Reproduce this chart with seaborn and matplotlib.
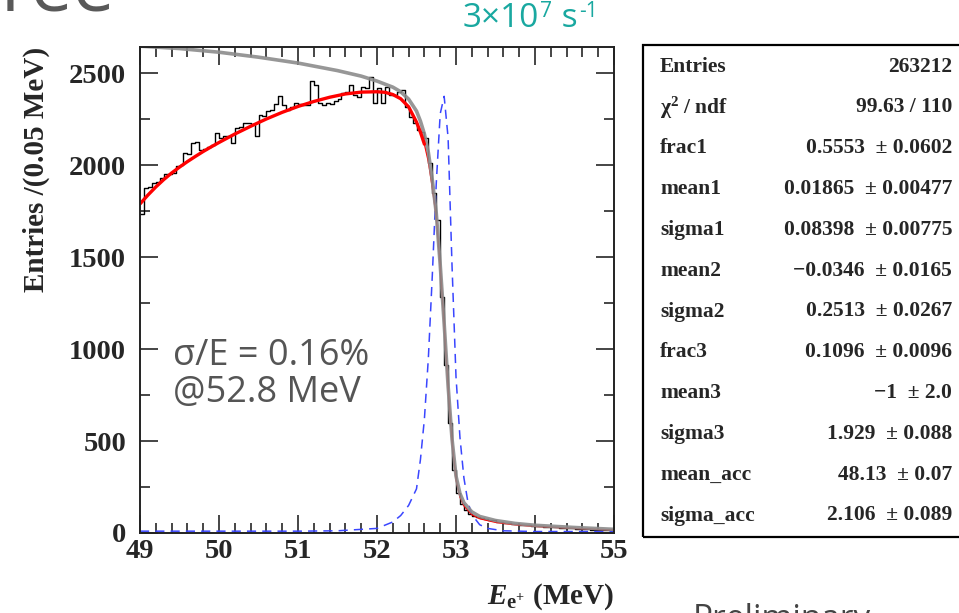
import matplotlib
matplotlib.use("Agg")
import matplotlib.pyplot as plt
import numpy as np
import pandas as pd
import seaborn as sns
from matplotlib.patches import Rectangle
from matplotlib.ticker import MultipleLocator

# histogram: 120 bins of 0.05 MeV between 49 and 55 (counts)
bin_lo = 49.0
bin_w = 0.05
counts = [
    1735, 1874, 1880, 1905, 1910, 1929, 1955, 1950, 1958, 1997,
    2000, 2065, 2060, 2120, 2125, 2083, 2090, 2100, 2110, 2175,
    2150, 2160, 2158, 2119, 2205, 2210, 2228, 2230, 2225, 2158,
    2273, 2270, 2295, 2298, 2331, 2377, 2330, 2300, 2318, 2337,
    2335, 2330, 2330, 2460, 2436, 2337, 2330, 2340, 2335, 2350,
    2360, 2391, 2400, 2436, 2380, 2373, 2427, 2420, 2481, 2337,
    2420, 2337, 2427, 2380, 2385, 2400, 2410, 2318, 2264, 2230,
    2192, 2183, 2150, 2012, 1849, 1702, 1285, 914, 598, 343,
    215, 160, 125, 105, 92, 85, 80, 76, 70, 68,
    62, 60, 57, 55, 50, 49, 46, 44, 42, 40,
    38, 37, 35, 33, 32, 30, 29, 27, 26, 25,
    23, 22, 21, 20, 19, 18, 17, 17, 16, 15,
]

# total fit (red)
fit_x = [49.0, 49.1, 49.2, 49.3, 49.4, 49.5, 49.6, 49.7, 49.8, 49.9, 50.0, 50.2, 50.4,
         50.6, 50.8, 51.0, 51.2, 51.4, 51.6, 51.8, 52.0, 52.1, 52.2, 52.3, 52.4, 52.5,
         52.55, 52.6, 52.65, 52.7, 52.75, 52.8, 52.85, 52.9, 52.95, 53.0, 53.05, 53.1,
         53.2, 53.3, 53.5, 53.75, 54.0, 54.5, 55.0]
fit_y = [1790, 1838, 1882, 1922, 1958, 1990, 2020, 2048, 2075, 2100, 2124, 2170, 2212,
         2252, 2288, 2320, 2347, 2370, 2388, 2398, 2400, 2397, 2385, 2362, 2318, 2235,
         2180, 2115, 2020, 1880, 1720, 1450, 1130, 790, 495, 292, 196, 148,
         100, 78, 58, 45, 36, 25, 16]

# spectrum without acceptance (grey)
spec_x = [49.0, 49.5, 50.0, 50.5, 51.0, 51.5, 51.8, 52.0, 52.2, 52.3, 52.4, 52.5, 52.55,
          52.6, 52.65, 52.7, 52.75, 52.8, 52.85, 52.9, 52.95, 53.0, 53.05, 53.1, 53.2,
          53.3, 53.5, 53.75, 54.0, 54.5, 55.0]
spec_y = [2648, 2635, 2615, 2588, 2556, 2515, 2485, 2458, 2425, 2400, 2360, 2295, 2240,
          2170, 2070, 1920, 1740, 1460, 1140, 800, 510, 310, 215, 165, 115,
          90, 68, 52, 42, 30, 20]

# resolution function (blue dashed)
res_x = [49.0, 50.0, 51.0, 51.5, 52.0, 52.2, 52.3, 52.4, 52.5, 52.55, 52.6, 52.65, 52.7,
         52.75, 52.8, 52.85, 52.9, 52.95, 53.0, 53.05, 53.1, 53.15, 53.2, 53.3, 53.4,
         53.6, 54.0, 55.0]
res_y = [10, 10, 10, 12, 25, 60, 95, 150, 240, 400, 620, 950, 1400,
         1900, 2280, 2375, 2150, 1450, 850, 520, 300, 170, 100, 45, 25,
         12, 8, 8]

stat_names = ["Entries", "χ$^{2}$ / ndf", "frac1", "mean1", "sigma1", "mean2", "sigma2",
              "frac3", "mean3", "sigma3", "mean_acc", "sigma_acc"]
stat_values = ["263212", "99.63 / 110", "0.5553  ± 0.0602", "0.01865  ± 0.00477",
               "0.08398  ± 0.00775", "\u22120.0346  ± 0.0165", "0.2513  ± 0.0267",
               "0.1096  ± 0.0096", "\u22121  ± 2.0", "1.929  ± 0.088", "48.13  ± 0.07",
               "2.106  ± 0.089"]

sns.set_style("ticks")
plt.rcParams["font.family"] = ["Liberation Serif", "DejaVu Serif"]
plt.rcParams["font.weight"] = "bold"
plt.rcParams["mathtext.fontset"] = "custom"
plt.rcParams["mathtext.rm"] = "Liberation Serif:bold"
plt.rcParams["mathtext.it"] = "Liberation Serif:italic:bold"
plt.rcParams["mathtext.bf"] = "Liberation Serif:bold"

W, H = 959, 613
fig = plt.figure(figsize=(W / 100, H / 100), dpi=100)
ax = fig.add_axes([140 / W, (H - 533) / H, 474 / W, 486.3 / H])

centers = [bin_lo + bin_w * (i + 0.5) for i in range(len(counts))]
hist_df = pd.DataFrame({"E": centers, "n": counts})
sns.histplot(data=hist_df, x="E", weights="n", binwidth=bin_w, binrange=(49, 55),
             element="step", fill=False, color="black", linewidth=1.0, ax=ax)

sns.lineplot(x=res_x, y=res_y, sort=False, estimator=None, color="#3a46ff",
             linewidth=1.1, linestyle=(0, (6, 4)), ax=ax)
# thin red under the grey curve, thick red only on the plateau
sns.lineplot(x=fit_x, y=fit_y, sort=False, estimator=None, color="#ff0000",
             linewidth=1.0, ax=ax)
sns.lineplot(x=spec_x, y=spec_y, sort=False, estimator=None, color="#8c8c8c",
             linewidth=2.6, alpha=0.9, ax=ax)
plateau = [(x, y) for x, y in zip(fit_x, fit_y) if x <= 52.6]
sns.lineplot(x=[p[0] for p in plateau], y=[p[1] for p in plateau], sort=False,
             estimator=None, color="#ff0000", linewidth=2.4, ax=ax)

ax.set_xlim(49, 55)
ax.set_ylim(0, 2645)
ax.xaxis.set_major_locator(MultipleLocator(1))
ax.xaxis.set_minor_locator(MultipleLocator(0.2))
ax.yaxis.set_major_locator(MultipleLocator(500))
ax.yaxis.set_minor_locator(MultipleLocator(250))
ax.tick_params(which="both", direction="in", top=True, right=True, width=1.2,
               labelsize=20.5)
ax.tick_params(axis="y", pad=10)
ax.tick_params(axis="x", pad=4)
ax.tick_params(which="major", length=13)
ax.tick_params(which="minor", length=7)
for lab in ax.get_xticklabels() + ax.get_yticklabels():
    lab.set_fontweight("bold")
for sp in ax.spines.values():
    sp.set_linewidth(1.4)
    sp.set_color("#222222")

ax.set_ylabel("Entries /(0.05 MeV)", fontsize=21, fontweight="bold", loc="top")
ax.yaxis.set_label_coords(-0.19, 1.0)
ax.set_xlabel(r"$E_{\mathrm{e}^{+}}$ (MeV)", fontsize=21, fontweight="bold", loc="right")
ax.xaxis.set_label_coords(1.0, -0.1)
ax.xaxis.label.set_va("top")

# annotation inside the plot
sans = ["Open Sans", "DejaVu Sans"]
fig.text(173 / W, (H - 365) / H, "σ/E = 0.16%", family=sans,
         fontweight="normal", fontsize=26, color="#555555", va="baseline")
fig.text(173 / W, (H - 402) / H, "@52.8 MeV", family=sans,
         fontweight="normal", fontsize=26, color="#555555", va="baseline")

# slide fragments around the figure
teal = "#19a8a0"
rend = fig.canvas.get_renderer()
pieces = [("3×10", 24, 0), ("7", 15, 10), (" s", 24, 0), ("-1", 15, 10)]
xpos = 463
for txt, fs, rise in pieces:
    t = fig.text(xpos / W, (H - 27 + rise) / H, txt, family=sans, fontweight="normal",
                 fontsize=fs, color=teal, va="baseline")
    xpos += t.get_window_extent(rend).width + 1
fig.text(115 / W, (H - 12) / H, "ree", family=sans,
         fontweight="normal", fontsize=54, color="#595959", va="baseline", ha="right")
fig.text(693 / W, (H - 603) / H, "Preliminary", family=sans,
         fontweight="normal", fontsize=24, color="#444444", va="top")

# statistics box
fig.patches.append(Rectangle((643 / W, (H - 537) / H), 330 / W, 492 / H,
                             transform=fig.transFigure, fill=False,
                             edgecolor="black", linewidth=1.6, clip_on=False))
row_y0 = 66.7
row_dy = 40.8
for i, (name, val) in enumerate(zip(stat_names, stat_values)):
    yy = (H - (row_y0 + i * row_dy)) / H
    fig.text(660 / W, yy, name, fontsize=15.5, fontweight="bold", va="center")
    fig.text(952 / W, yy, val, fontsize=15.5, fontweight="bold", va="center", ha="right")

fig.savefig("out.png", dpi=100)
